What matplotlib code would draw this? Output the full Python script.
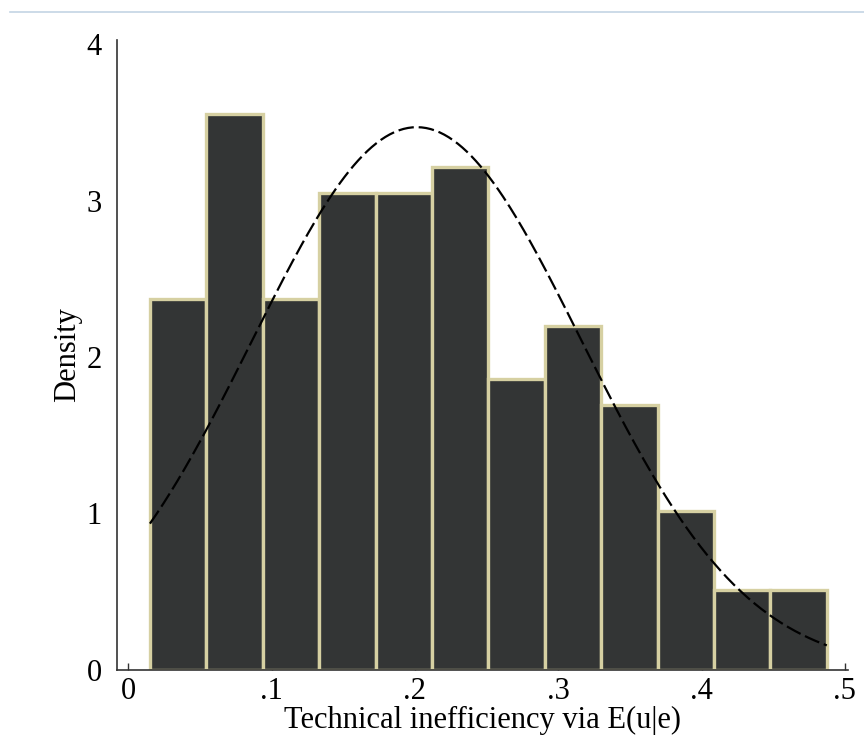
import numpy as np
import matplotlib
matplotlib.use('Agg')
import matplotlib.pyplot as plt
from matplotlib.lines import Line2D

# Histogram of technical inefficiency (12 bins, density scale)
bin_start = 0.0151
bin_width = 0.03936
densities = [2.370, 3.555, 2.370, 3.047, 3.047, 3.217, 1.862, 2.201, 1.693, 1.016, 0.508, 0.508]

# Normal density overlay
norm_mean = 0.2013
norm_sd = 0.1150

x_ticks = [0, 0.1, 0.2, 0.3, 0.4, 0.5]
x_ticklabels = ['0', '.1', '.2', '.3', '.4', '.5']
y_ticks = [0, 1, 2, 3, 4]

plt.rcParams['font.family'] = ['Liberation Serif', 'DejaVu Serif']

fig = plt.figure(figsize=(8.64, 7.51), dpi=100)
ax = fig.add_axes([0.1354, 0.1079, 0.8461, 0.8388])

lefts = bin_start + bin_width * np.arange(len(densities))
ax.bar(lefts, densities, width=bin_width, align='edge',
       color='#333535', edgecolor='#d6d0a2', linewidth=2.4, zorder=2)

xs = np.linspace(lefts[0], lefts[-1] + bin_width, 300)
ys = np.exp(-0.5 * ((xs - norm_mean) / norm_sd) ** 2) / (norm_sd * np.sqrt(2 * np.pi))
ax.plot(xs, ys, color='black', linewidth=1.6, dashes=(7, 2.2), zorder=3)

ax.set_xlim(-0.0079, 0.5022)
ax.set_ylim(0, 4.026)
ax.set_xticks(x_ticks)
ax.set_xticklabels(x_ticklabels)
ax.set_yticks(y_ticks)

ax.spines['top'].set_visible(False)
ax.spines['right'].set_visible(False)
ax.spines['left'].set_color('#333333')
ax.spines['bottom'].set_color('#333333')
ax.spines['left'].set_linewidth(1.2)
ax.spines['bottom'].set_linewidth(1.2)

ax.tick_params(axis='x', direction='in', length=5, width=1.0, color='#333333',
               labelsize=22, pad=5)
ax.tick_params(axis='y', length=0, labelsize=22, pad=11)

ax.set_xlabel('Technical inefficiency via E(u|e)', fontsize=22, labelpad=0)
ax.set_ylabel('Density', fontsize=22, labelpad=3)

# thin light-blue rule along the top of the image
fig.add_artist(Line2D([0.011, 1.0], [0.984, 0.984], transform=fig.transFigure,
                      color='#c4d4e4', linewidth=1.2))

fig.savefig('out.png', dpi=100)
